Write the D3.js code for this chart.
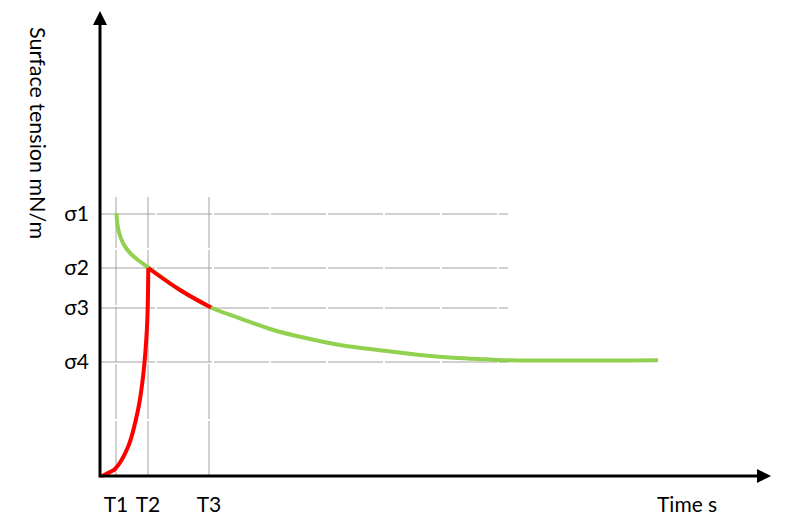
<!DOCTYPE html>
<html>
<head>
<meta charset="utf-8">
<script src="https://cdn.jsdelivr.net/npm/d3@7"></script>
<style>
  html, body { margin: 0; padding: 0; background: #fff; }
  text { font-family: Lato, "Open Sans", "Liberation Sans", sans-serif; fill: #000; }
</style>
</head>
<body>
<svg id="chart" width="798" height="526"></svg>
<script>
// ---- data (time in arbitrary units, surface tension in arbitrary units) ----
const timeTicks = [1.6, 4.8, 10.9];
const timeLabels = ["T1", "T2", "T3"];
const sigmaTicks = [26.2, 20.8, 16.8, 11.4];
const sigmaLabels = ["σ1", "σ2", "σ3", "σ4"];

// green curve
const greenTime  = [1.65, 1.75, 1.95, 2.2, 2.6, 3.1, 3.8, 4.83, 8.0, 11.17, 14.0, 17.33, 20.67, 24.0, 28.67, 32.0, 35.33, 38.67, 41.0, 55.8];
const greenSigma = [26.3, 25.1, 24.2, 23.5, 22.8, 22.2, 21.6, 20.85, 18.6, 16.83, 15.77, 14.6, 13.77, 13.1, 12.5, 12.1, 11.83, 11.67, 11.57, 11.57];

// red curve: rise, then follow the decay down to T3
const redRiseTime  = [0.2, 1.0, 1.5, 2.8, 3.8, 4.3, 4.7, 4.83];
const redRiseSigma = [0.0, 0.4, 0.7, 2.9, 6.6, 9.9, 14.9, 20.8];
const redFallTime  = [4.83, 8.0, 11.1];
const redFallSigma = [20.8, 18.6, 16.85];

const gridTimeEnd = 40.8;    // horizontal grid lines extent
const gridSigmaTop = 27.9;   // vertical grid lines extent

const axisTitleY = "Surface tension mN/m";
const axisTitleX = "Time s";

// ---- scales ----
const svg = d3.select("#chart");
const x = d3.scaleLinear().domain([0, 67]).range([100, 770]);
const y = d3.scaleLinear().domain([0, 46.4]).range([476, 12]);

// ---- grid ----
const grid = svg.append("g").attr("stroke", "#a3a3a3").attr("stroke-width", 1)
  .attr("stroke-dasharray", "55 2");
grid.selectAll("line.h").data(sigmaTicks).join("line").attr("class", "h")
  .attr("x1", x(0)).attr("x2", x(gridTimeEnd))
  .attr("y1", d => y(d)).attr("y2", d => y(d));
grid.selectAll("line.v").data(timeTicks).join("line").attr("class", "v")
  .attr("x1", d => x(d)).attr("x2", d => x(d))
  .attr("y1", y(0)).attr("y2", y(gridSigmaTop));

// ---- curves ----
const line = d3.line().x(d => x(d[0])).y(d => y(d[1])).curve(d3.curveCatmullRom.alpha(0.5));
const zip = (a, b) => a.map((v, i) => [v, b[i]]);

svg.append("path").datum(zip(greenTime, greenSigma))
  .attr("d", line).attr("fill", "none").attr("stroke", "#92d050").attr("stroke-width", 4);
svg.append("path").datum(zip(redRiseTime, redRiseSigma))
  .attr("d", line).attr("fill", "none").attr("stroke", "#ff0000").attr("stroke-width", 4);
svg.append("path").datum(zip(redFallTime, redFallSigma))
  .attr("d", line).attr("fill", "none").attr("stroke", "#ff0000").attr("stroke-width", 4);

// ---- axes with arrows ----
const x0 = x(0), y0 = y(0);
const xEnd = x.range()[1], yEnd = y.range()[1];
svg.append("line").attr("x1", x0).attr("x2", xEnd - 10).attr("y1", y0).attr("y2", y0)
  .attr("stroke", "#000").attr("stroke-width", 3);
svg.append("line").attr("x1", x0).attr("x2", x0).attr("y1", y0 + 1.5).attr("y2", yEnd + 10)
  .attr("stroke", "#000").attr("stroke-width", 3);
svg.append("path").attr("d", `M${xEnd + 1},${y0} L${xEnd - 13},${y0 - 7} L${xEnd - 13},${y0 + 7} Z`).attr("fill", "#000");
svg.append("path").attr("d", `M${x0},${yEnd - 1} L${x0 - 7},${yEnd + 13} L${x0 + 7},${yEnd + 13} Z`).attr("fill", "#000");

// ---- tick labels ----
svg.selectAll("text.sig").data(sigmaTicks).join("text").attr("class", "sig")
  .attr("x", 89).attr("y", d => y(d)).attr("dy", "0.33em")
  .attr("text-anchor", "end").attr("font-size", 21)
  .text((d, i) => sigmaLabels[i]);
svg.selectAll("text.t").data(timeTicks).join("text").attr("class", "t")
  .attr("x", d => x(d)).attr("y", 512)
  .attr("text-anchor", "middle").attr("font-size", 21)
  .text((d, i) => timeLabels[i]);

// ---- axis titles ----
svg.append("text").attr("x", 657).attr("y", 512).attr("font-size", 21).text(axisTitleX);
svg.append("text").attr("transform", "translate(30,27) rotate(90)")
  .attr("font-size", 21.5).attr("text-anchor", "start").text(axisTitleY);
</script>
</body>
</html>
